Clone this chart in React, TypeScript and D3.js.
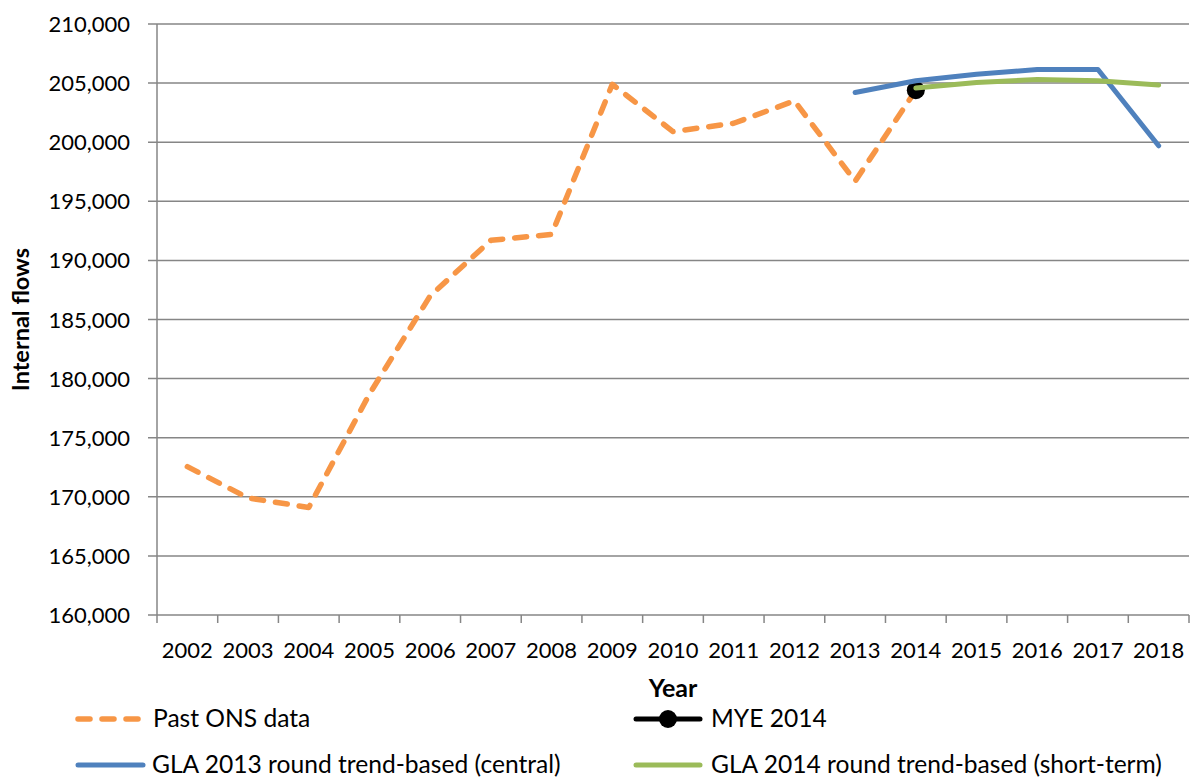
import React from 'react';
import * as d3 from 'd3';

const years = ['2002', '2003', '2004', '2005', '2006', '2007', '2008', '2009', '2010', '2011', '2012', '2013', '2014', '2015', '2016', '2017', '2018'];
const yTicks = [160000, 165000, 170000, 175000, 180000, 185000, 190000, 195000, 200000, 205000, 210000];

const pastOnsYears = ['2002', '2003', '2004', '2005', '2006', '2007', '2008', '2009', '2010', '2011', '2012', '2013', '2014'];
const pastOnsValues = [172550, 169900, 169100, 178700, 187000, 191700, 192200, 204900, 200900, 201600, 203500, 196700, 204400];

const myeYears = ['2014'];
const myeValues = [204400];

const gla2013Years = ['2013', '2014', '2015', '2016', '2017', '2018'];
const gla2013Values = [204200, 205200, 205750, 206150, 206150, 199700];

const gla2014Years = ['2014', '2015', '2016', '2017', '2018'];
const gla2014Values = [204580, 205050, 205300, 205200, 204830];

const FONT = 'Lato, "Open Sans", sans-serif';

const App = () => {
  const width = 1191;
  const height = 778;
  const margin = { top: 24, right: 2, bottom: 163, left: 157 };
  const innerW = width - margin.left - margin.right;
  const innerH = height - margin.top - margin.bottom;

  const x = d3.scaleBand().domain(years).range([0, innerW]);
  const y = d3.scaleLinear().domain([160000, 210000]).range([innerH, 0]);
  const cx = (yr: string) => (x(yr) ?? 0) + x.bandwidth() / 2;

  const line = (yrs: string[], vals: number[]) =>
    d3.line<number>().x((_, i) => cx(yrs[i])).y((d) => y(d))(vals) ?? '';

  const grid = '#868686';
  const orange = '#F79646';
  const blue = '#4F81BD';
  const green = '#9BBB59';

  const legendY1 = 719;
  const legendY2 = 765;
  const legendFont = 24.6;

  return (
    <svg width={width} height={height} style={{ position: 'absolute', left: 0, top: 0, background: '#fff' }}>
      <g transform={`translate(${margin.left},${margin.top})`}>
        {/* grid + y ticks */}
        {yTicks.map((t) => (
          <g key={t}>
            <line x1={-9} x2={innerW} y1={y(t)} y2={y(t)} stroke={grid} strokeWidth={1.5} />
            <text x={-27} y={y(t) + 8} textAnchor="end" fontFamily={FONT} fontSize={22} fill="#000">
              {d3.format(',')(t)}
            </text>
          </g>
        ))}
        <line x1={0} x2={0} y1={0} y2={innerH} stroke={grid} strokeWidth={1.5} />
        {/* x ticks at band edges */}
        {years.map((yr) => (
          <line key={'t' + yr} x1={x(yr)} x2={x(yr)} y1={innerH} y2={innerH + 8} stroke={grid} strokeWidth={1.5} />
        ))}
        <line x1={innerW} x2={innerW} y1={innerH} y2={innerH + 8} stroke={grid} strokeWidth={1.5} />
        {years.map((yr) => (
          <text key={'l' + yr} x={cx(yr)} y={innerH + 43} textAnchor="middle" fontFamily={FONT} fontSize={22} fill="#000">
            {yr}
          </text>
        ))}

        {/* series */}
        <path d={line(pastOnsYears, pastOnsValues)} fill="none" stroke={orange} strokeWidth={5.5}
          strokeDasharray="12 12" strokeLinecap="round" strokeLinejoin="round" />
        {myeValues.map((v, i) => (
          <circle key={'m' + i} cx={cx(myeYears[i])} cy={y(v)} r={9} fill="#000" />
        ))}
        <path d={line(gla2013Years, gla2013Values)} fill="none" stroke={blue} strokeWidth={5}
          strokeLinecap="round" strokeLinejoin="round" />
        <path d={line(gla2014Years, gla2014Values)} fill="none" stroke={green} strokeWidth={5}
          strokeLinecap="round" strokeLinejoin="round" />
      </g>

      {/* axis titles */}
      <text x={673} y={697} textAnchor="middle" fontFamily={FONT} fontSize={25} fontWeight="bold" fill="#000">Year</text>
      <text transform={`translate(29,${margin.top + innerH / 2}) rotate(-90)`} textAnchor="middle"
        fontFamily={FONT} fontSize={23.5} fontWeight="bold" fill="#000">Internal flows</text>

      {/* legend */}
      <line x1={78} x2={138} y1={legendY1} y2={legendY1} stroke={orange} strokeWidth={5.5}
        strokeDasharray="12 12" strokeLinecap="round" />
      <text x={153} y={legendY1 + 8} fontFamily={FONT} fontSize={legendFont} fill="#000">Past ONS data</text>

      <line x1={636} x2={700} y1={legendY1} y2={legendY1} stroke="#000" strokeWidth={5} strokeLinecap="round" />
      <circle cx={668} cy={legendY1} r={9} fill="#000" />
      <text x={711} y={legendY1 + 8} fontFamily={FONT} fontSize={legendFont} fill="#000">MYE 2014</text>

      <line x1={78} x2={143} y1={legendY2} y2={legendY2} stroke={blue} strokeWidth={5} strokeLinecap="round" />
      <text x={152} y={legendY2 + 8} fontFamily={FONT} fontSize={legendFont} fill="#000">GLA 2013 round trend-based (central)</text>

      <line x1={636} x2={700} y1={legendY2} y2={legendY2} stroke={green} strokeWidth={5} strokeLinecap="round" />
      <text x={711} y={legendY2 + 8} fontFamily={FONT} fontSize={legendFont} fill="#000">GLA 2014 round trend-based (short-term)</text>
    </svg>
  );
};

export default App;
